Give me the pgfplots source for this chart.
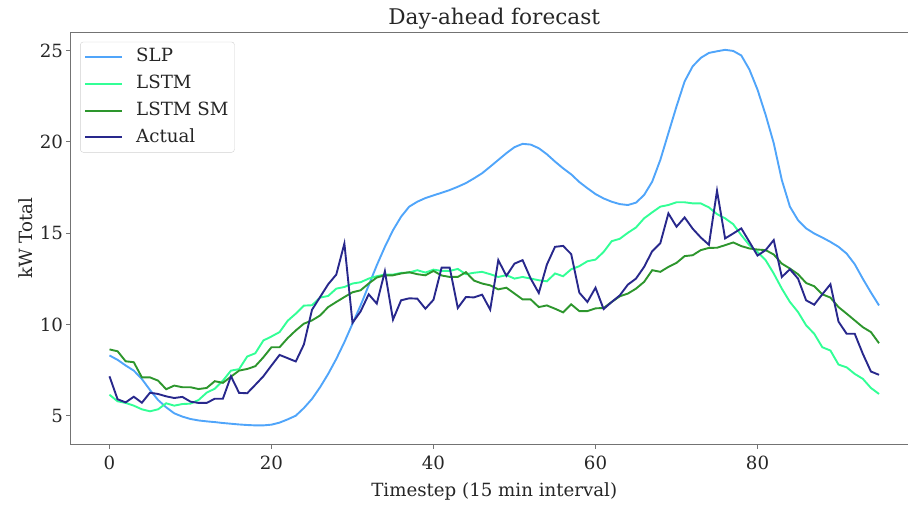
\documentclass[border=0pt]{standalone}
\usepackage{fontspec}
\setmainfont{DejaVu Serif}
\usepackage{pgfplots}
\usepackage{pgfplotstable}
\pgfplotsset{compat=1.18}
\definecolor{cSLP}{RGB}{80,165,250}
\definecolor{cLSTM}{RGB}{50,255,150}
\definecolor{cLSM}{RGB}{45,150,45}
\definecolor{cAct}{RGB}{40,40,140}
\pgfplotstableread{
i slp lstm lsm act
0 8.30 6.15 8.63 7.16
1 8.06 5.79 8.53 5.90
2 7.75 5.70 7.98 5.73
3 7.47 5.55 7.93 6.04
4 7.01 5.35 7.10 5.71
5 6.41 5.24 7.10 6.26
6 5.86 5.35 6.92 6.19
7 5.46 5.68 6.45 6.06
8 5.13 5.55 6.65 5.97
9 4.95 5.64 6.56 6.03
10 4.82 5.66 6.56 5.77
11 4.74 5.86 6.46 5.70
12 4.69 6.26 6.52 5.70
13 4.65 6.48 6.89 5.93
14 4.60 6.92 6.80 5.93
15 4.56 7.47 7.14 7.16
16 4.52 7.55 7.47 6.25
17 4.49 8.24 7.56 6.23
18 4.47 8.42 7.71 6.69
19 4.47 9.12 8.20 7.16
20 4.51 9.34 8.75 7.75
21 4.62 9.58 8.75 8.33
22 4.80 10.20 9.25 8.15
23 5.00 10.59 9.67 7.97
24 5.42 11.03 10.04 8.90
25 5.92 11.05 10.22 10.80
26 6.56 11.47 10.49 11.50
27 7.29 11.56 10.95 12.20
28 8.11 11.96 11.23 12.73
29 9.03 12.05 11.50 14.43
30 10.04 12.24 11.76 10.09
31 11.04 12.31 11.87 10.71
32 12.14 12.51 12.24 11.65
33 13.24 12.64 12.57 11.14
34 14.25 12.73 12.69 12.91
35 15.16 12.73 12.69 10.26
36 15.90 12.82 12.79 11.32
37 16.45 12.84 12.86 11.43
38 16.72 12.97 12.75 11.41
39 16.92 12.84 12.69 10.86
40 17.07 13.00 12.93 11.35
41 17.21 12.93 12.68 13.11
42 17.36 12.93 12.60 13.11
43 17.54 13.04 12.60 10.90
44 17.74 12.75 12.86 11.50
45 18.00 12.83 12.40 11.48
46 18.28 12.88 12.24 11.63
47 18.64 12.75 12.14 10.81
48 19.01 12.60 11.92 13.52
49 19.38 12.70 12.01 12.66
50 19.71 12.51 11.69 13.33
51 19.89 12.60 11.37 13.52
52 19.85 12.51 11.37 12.51
53 19.65 12.42 10.95 11.72
54 19.32 12.36 11.04 13.28
55 18.92 12.79 10.86 14.25
56 18.55 12.64 10.66 14.30
57 18.22 13.02 11.10 13.85
58 17.80 13.19 10.73 11.74
59 17.46 13.46 10.73 11.23
60 17.14 13.55 10.88 12.01
61 16.90 13.97 10.90 10.84
62 16.72 14.56 11.23 11.23
63 16.59 14.69 11.54 11.59
64 16.54 15.02 11.69 12.18
65 16.67 15.31 11.96 12.51
66 17.09 15.81 12.33 13.15
67 17.82 16.14 12.97 14.01
68 19.01 16.45 12.88 14.45
69 20.48 16.54 13.15 16.08
70 21.94 16.69 13.37 15.35
71 23.31 16.69 13.74 15.86
72 24.14 16.63 13.79 15.24
73 24.60 16.63 14.07 14.76
74 24.87 16.41 14.19 14.36
75 24.96 16.04 14.20 17.32
76 25.04 15.81 14.34 14.71
77 24.98 15.49 14.49 14.98
78 24.73 14.89 14.29 15.26
79 23.96 14.34 14.16 14.52
80 22.86 13.97 14.10 13.77
81 21.48 13.52 14.07 14.07
82 19.93 12.79 13.83 14.62
83 17.91 11.96 13.33 12.60
84 16.45 11.23 13.06 13.02
85 15.71 10.68 12.75 12.51
86 15.26 9.95 12.27 11.32
87 14.98 9.49 12.09 11.08
88 14.76 8.75 11.65 11.65
89 14.52 8.57 11.47 12.20
90 14.25 7.80 10.95 10.15
91 13.88 7.65 10.59 9.49
92 13.30 7.29 10.22 9.49
93 12.50 7.02 9.85 8.39
94 11.75 6.52 9.58 7.42
95 11.04 6.19 8.97 7.24
}\datatable
\begin{document}
\begin{tikzpicture}
\useasboundingbox (-71pt,-60pt) rectangle (837pt,444pt);
\begin{axis}[
  at={(0,0)}, anchor=south west,
  scale only axis,
  width=846.5pt, height=411.7pt,
  xmin=-4.75, xmax=99.75,
  ymin=3.45, ymax=26.0,
  xtick={0,20,40,60,80},
  ytick={5,10,15,20,25},
  tick align=outside,
  major tick length=4.5pt,
  tick style={black!55, line width=1pt},
  axis line style={black!55, line width=1pt},
  xtick pos=bottom, ytick pos=left,
  /pgf/number format/assume math mode=true,
  ticklabel style={font=\fontsize{18.2}{22}\selectfont, text=black!85},
  xticklabel style={yshift=-4pt},
  label style={font=\fontsize{18.2}{22}\selectfont, text=black!85},
  xlabel style={yshift=-6pt},
  xlabel={Timestep (15 min interval)},
  ylabel={kW Total},
  title={Day-ahead forecast},
  title style={font=\fontsize{21.6}{26}\selectfont, text=black!85, yshift=-7pt},
  legend cell align=left,
  legend image code/.code={\draw[#1] (0pt,0pt) -- (37pt,0pt);},
  legend style={at={(0.0108,0.977)}, anchor=north west,
    draw=black!18, rounded corners=3pt, fill=white, fill opacity=0.8, text opacity=1,
    font=\fontsize{18.2}{22}\selectfont, inner sep=4pt, row sep=4.8pt, column sep=11pt,
    nodes={inner sep=2pt, text height=14pt, text depth=4pt, text=black!85}},
  every axis plot/.append style={line width=1.9pt},
]
\addplot[cSLP] table[x=i, y=slp] {\datatable};
\addlegendentry{SLP}
\addplot[cLSTM] table[x=i, y=lstm] {\datatable};
\addlegendentry{LSTM}
\addplot[cLSM] table[x=i, y=lsm] {\datatable};
\addlegendentry{LSTM SM}
\addplot[cAct] table[x=i, y=act] {\datatable};
\addlegendentry{Actual}
\end{axis}
\end{tikzpicture}
\end{document}
